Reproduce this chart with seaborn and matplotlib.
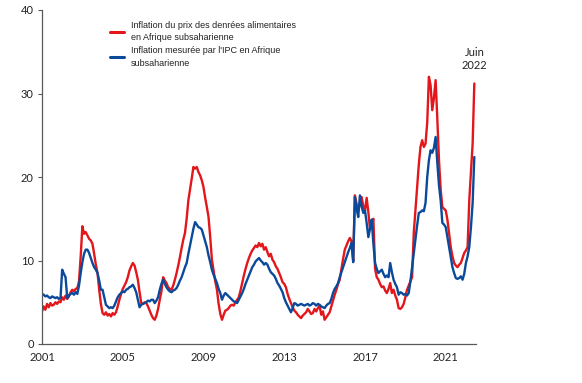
import numpy as np
import pandas as pd
import matplotlib
matplotlib.use("Agg")
import matplotlib.pyplot as plt
import seaborn as sns

# Monthly data, January 2001 to June 2022
food_2001_2022 = [
    3.9, 4.5, 4.1, 4.8, 4.4, 4.9, 4.6, 4.7, 5.0, 4.8, 5.1, 5.0,        # 2001
    5.6, 5.3, 5.8, 5.4, 5.7, 6.2, 6.5, 6.3, 6.6, 6.7, 7.5, 10.5,       # 2002
    14.1, 13.2, 13.4, 13.0, 12.6, 12.4, 12.0, 10.8, 9.5, 8.5, 6.5, 4.8, # 2003
    3.7, 3.5, 3.8, 3.4, 3.6, 3.3, 3.7, 3.5, 3.8, 4.5, 5.3, 6.0,        # 2004
    6.6, 7.0, 7.4, 8.0, 8.8, 9.3, 9.7, 9.4, 8.6, 7.7, 6.2, 4.9,        # 2005
    4.8, 5.0, 4.9, 4.5, 4.0, 3.5, 3.1, 2.9, 3.4, 4.2, 5.3, 6.3,        # 2006
    8.0, 7.6, 7.3, 6.8, 6.6, 6.5, 7.0, 7.7, 8.5, 9.4, 10.4, 11.5,      # 2007
    12.5, 13.3, 15.0, 17.2, 18.5, 19.8, 21.2, 21.0, 21.2, 20.6, 20.2, 19.6,  # 2008
    18.8, 17.5, 16.4, 15.2, 12.8, 10.1, 8.8, 7.5, 6.5, 4.8, 3.6, 2.9,  # 2009
    3.5, 4.0, 4.1, 4.3, 4.6, 4.7, 4.6, 5.0, 5.3, 5.6, 6.4, 7.3,        # 2010
    8.2, 9.0, 9.7, 10.3, 10.8, 11.2, 11.5, 11.8, 11.6, 12.1, 11.7, 12.0,  # 2011
    11.3, 11.6, 11.0, 10.5, 10.8, 10.1, 9.8, 9.3, 9.0, 8.5, 8.0, 7.4,  # 2012
    7.2, 6.8, 6.0, 5.4, 4.9, 4.4, 4.0, 3.8, 3.5, 3.3, 3.1, 3.4,        # 2013
    3.6, 3.8, 4.2, 3.9, 3.6, 3.7, 4.2, 3.9, 4.3, 4.6, 3.5, 3.9,        # 2014
    2.9, 3.2, 3.5, 3.8, 4.5, 5.2, 5.9, 6.5, 7.2, 7.7, 9.0, 10.2,       # 2015
    11.3, 11.8, 12.3, 12.7, 12.3, 10.0, 17.8, 16.8, 16.0, 16.8, 17.6, 16.5,  # 2016
    16.0, 17.5, 15.8, 13.7, 14.5, 15.0, 9.0, 8.0, 7.7, 7.2, 6.8, 6.9,  # 2017
    6.4, 6.1, 6.6, 7.3, 6.1, 6.5, 5.8, 5.3, 4.3, 4.2, 4.4, 4.8,        # 2018
    5.6, 6.5, 7.0, 7.5, 8.0, 13.3, 16.0, 18.8, 21.5, 23.6, 24.4, 23.6, # 2019
    24.0, 26.5, 32.0, 31.0, 28.0, 29.5, 31.6, 27.0, 22.0, 18.5, 16.4, 16.2,  # 2020
    16.0, 14.9, 13.2, 11.6, 10.5, 9.7, 9.4, 9.2, 9.5, 9.7, 10.3, 10.9, # 2021
    11.2, 11.6, 17.2, 20.5, 24.0, 31.2,                                # 2022
]

cpi_2001_2022 = [
    6.0, 5.9, 5.7, 5.8, 5.6, 5.5, 5.7, 5.6, 5.5, 5.6, 5.4, 5.5,        # 2001
    8.9, 8.4, 8.0, 5.5, 5.8, 6.0, 6.1, 5.9, 6.2, 6.0, 7.0, 8.5,        # 2002
    9.8, 10.8, 11.3, 11.3, 10.9, 10.3, 9.7, 9.2, 8.9, 8.5, 7.6, 6.5,   # 2003
    6.5, 5.6, 4.7, 4.5, 4.3, 4.4, 4.3, 4.6, 5.1, 5.6, 5.9, 6.1,        # 2004
    6.3, 6.2, 6.5, 6.6, 6.8, 6.9, 7.1, 6.7, 6.2, 5.3, 4.4, 4.7,        # 2005
    4.8, 4.9, 5.0, 5.2, 5.1, 5.3, 5.3, 4.9, 5.2, 5.6, 6.5, 7.2,        # 2006
    7.7, 7.2, 6.8, 6.5, 6.3, 6.2, 6.4, 6.5, 6.7, 7.1, 7.6, 8.0,        # 2007
    8.6, 9.2, 9.7, 10.8, 11.8, 12.8, 13.8, 14.6, 14.3, 14.0, 13.9, 13.7,  # 2008
    13.0, 12.3, 11.6, 10.6, 9.8, 8.9, 8.3, 7.8, 7.3, 6.6, 6.1, 5.3,    # 2009
    5.8, 6.1, 5.9, 5.7, 5.5, 5.3, 5.1, 5.0, 4.9, 5.3, 5.7, 6.1,        # 2010
    6.6, 7.2, 7.7, 8.2, 8.7, 9.2, 9.5, 9.9, 10.1, 10.3, 10.0, 9.8,     # 2011
    9.5, 9.7, 9.5, 9.0, 8.6, 8.4, 8.2, 7.8, 7.3, 7.0, 6.6, 6.2,        # 2012
    5.5, 5.0, 4.6, 4.2, 3.8, 4.3, 4.9, 4.8, 4.6, 4.7, 4.8, 4.7,        # 2013
    4.6, 4.7, 4.8, 4.6, 4.7, 4.9, 4.8, 4.6, 4.8, 4.7, 4.5, 4.4,        # 2014
    4.3, 4.6, 4.8, 4.9, 5.4, 6.1, 6.6, 6.9, 7.3, 8.0, 8.6, 9.2,        # 2015
    9.8, 10.4, 11.0, 11.5, 12.1, 9.8, 17.6, 16.2, 15.2, 17.8, 16.5, 15.7,  # 2016
    16.0, 14.5, 12.8, 13.8, 14.9, 12.0, 9.7, 9.0, 8.5, 8.7, 8.9, 8.4,  # 2017
    8.0, 8.2, 8.0, 9.7, 8.6, 7.7, 7.2, 6.8, 5.9, 6.2, 6.1, 5.9,        # 2018
    6.0, 5.8, 6.1, 7.5, 9.2, 10.8, 12.5, 14.2, 15.7, 15.8, 16.0, 15.9, # 2019
    16.9, 20.0, 22.0, 23.2, 22.9, 23.5, 24.8, 21.7, 19.0, 17.2, 14.5, 14.3,  # 2020
    14.0, 12.8, 11.6, 10.4, 9.2, 8.5, 7.9, 7.8, 7.9, 8.1, 7.7, 8.4,    # 2021
    9.7, 10.5, 11.6, 14.0, 16.9, 22.4,                                 # 2022
]

year_ticks = [2001, 2005, 2009, 2013, 2017, 2021]
y_ticks = [0, 10, 20, 30, 40]
label_food = "Inflation du prix des denrées alimentaires\nen Afrique subsaharienne"
label_cpi = "Inflation mesurée par l'IPC en Afrique\nsubsaharienne"
annotation = "Juin\n2022"

n = len(food_2001_2022)
dates = 2001 + np.arange(n) / 12.0
df = pd.DataFrame({
    "date": np.concatenate([dates, dates]),
    "value": food_2001_2022 + cpi_2001_2022,
    "serie": [label_food] * n + [label_cpi] * n,
})

sns.set_style("white")
plt.rcParams["font.family"] = ["Lato", "DejaVu Sans"]

fig = plt.figure(figsize=(5.82, 3.83), dpi=100)
ax = fig.add_axes([42 / 582, 1 - 344 / 383, (476 - 42) / 582, (344 - 10) / 383])

palette = {label_food: "#E3161B", label_cpi: "#0B4A9A"}
sns.lineplot(data=df, x="date", y="value", hue="serie", palette=palette,
             linewidth=1.7, ax=ax, legend=True)

ax.set_xlim(2001, 2022.5)
ax.set_ylim(0, 40)
ax.set_xticks(year_ticks)
ax.set_xticklabels([str(y) for y in year_ticks])
ax.set_yticks(y_ticks)
ax.set_xlabel("")
ax.set_ylabel("")

for side in ["top", "right"]:
    ax.spines[side].set_visible(False)
for side in ["left", "bottom"]:
    ax.spines[side].set_color("#595959")
    ax.spines[side].set_linewidth(0.9)

ax.tick_params(axis="y", which="both", left=True, length=3, width=0.8,
               color="#595959", labelsize=8, labelcolor="#222222", pad=3)
ax.tick_params(axis="x", which="both", bottom=False, length=0,
               labelsize=8, labelcolor="#222222", pad=6)

leg = ax.legend(loc="upper left", bbox_to_anchor=(110 / 582, 1 - 21 / 383),
                bbox_transform=fig.transFigure, frameon=False,
                prop={"family": ["Liberation Sans", "DejaVu Sans"], "size": 6.5},
                handlelength=1.6, handletextpad=0.7, borderpad=0,
                borderaxespad=0, labelspacing=0.4)
for line in leg.get_lines():
    line.set_linewidth(2.2)
for t in leg.get_texts():
    t.set_color("#222222")
    t.set_linespacing(1.5)

ax.text(2022.42, 34.1, annotation, ha="center", va="center",
        fontsize=8, color="#222222", linespacing=1.25)

fig.savefig("out.png", dpi=100)
